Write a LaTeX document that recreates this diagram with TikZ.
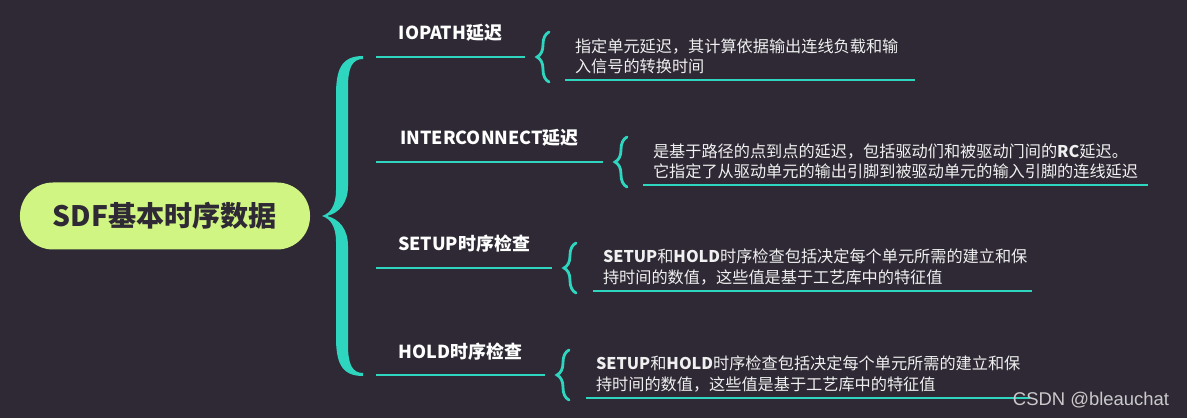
\documentclass[tikz,border=0pt]{standalone}
\usepackage{fontspec}
\setmainfont{Noto Sans CJK SC}
\newfontfamily\markfont{Liberation Sans}
\usetikzlibrary{decorations.pathreplacing}

\definecolor{bgdark}{RGB}{46,41,52}
\definecolor{mint}{RGB}{46,214,192}
\definecolor{lime}{RGB}{209,245,130}

\tikzset{
	topic/.style={fill=lime, text=bgdark, rounded corners=6.6mm, minimum width=58mm, minimum height=13.4mm, font=\fontsize{16}{19}\selectfont\bfseries},
	branch/.style={anchor=south west, text=white, inner xsep=4.4mm, inner ysep=0pt, outer sep=0pt, text depth=3.4mm, font=\fontsize{10.2}{12}\selectfont\bfseries},
	detail/.style={anchor=south west, text=white!94!black, align=left, inner xsep=2mm, inner ysep=1.2mm, outer sep=0pt, font=\fontsize{9.2}{11.7}\selectfont},
	underline/.style={mint, line width=1.7pt},
	smallbrace/.style={mint, line width=1.6pt, line cap=round, decorate, decoration={brace, amplitude=2.4mm}}
}

\begin{document}
\begin{tikzpicture}[x=0.2mm, y=-0.2mm]
	\fill[bgdark] (0,0) rectangle (1187,418);
	\useasboundingbox (0,0) rectangle (1187,418);
	% root
	\node[topic] (sdf) at (165,216) {SDF基本时序数据};
	% big brace
	\fill[mint] (363,56) .. controls (341,56) and (336,70) .. (336,95) -- (336,190) .. controls (336,205) and (331,213) .. (322,216) .. controls (331,219) and (336,227) .. (336,242) -- (336,337) .. controls (336,362) and (341,376) .. (363,376) -- (363,373) .. controls (352,373) and (348,364) .. (348,345) -- (348,246) .. controls (348,229) and (339,219) .. (327,216) .. controls (339,213) and (348,203) .. (348,186) -- (348,87) .. controls (348,68) and (352,59) .. (363,59) -- cycle;
	% branches
	\node[branch, minimum width=29.8mm] (io) at (376,57) {IOPATH延迟};
	\node[branch, minimum width=45.4mm] (ic) at (376,162) {INTERCONNECT延迟};
	\node[branch, minimum width=35.2mm] (setup) at (376,268) {SETUP时序检查};
	\node[branch, minimum width=33.8mm] (hold) at (376,375) {HOLD时序检查};
	\foreach \b in {io,ic,setup,hold}
		\draw[underline] (\b.south west) -- (\b.south east);
	% details
	\node[detail, text width=66mm] (iotxt) at ([shift={(8mm,-4.6mm)}]io.south east) {指定单元延迟，其计算依据输出连线负载和输\\入信号的转换时间};
	\node[detail, text width=97mm] (ictxt) at ([shift={(8mm,-4.6mm)}]ic.south east) {是基于路径的点到点的延迟，包括驱动们和被驱动门间的\textbf{RC}延迟。\\它指定了从驱动单元的输出引脚到被驱动单元的输入引脚的连线延迟};
	\node[detail, text width=83.8mm] (setuptxt) at ([shift={(8.2mm,-4.6mm)}]setup.south east) {\textbf{SETUP}和\textbf{HOLD}时序检查包括决定每个单元所需的建立和保\\持时间的数值，这些值是基于工艺库中的特征值};
	\node[detail, text width=84.8mm] (holdtxt) at ([shift={(8.2mm,-4.6mm)}]hold.south east) {\textbf{SETUP}和\textbf{HOLD}时序检查包括决定每个单元所需的建立和保\\持时间的数值，这些值是基于工艺库中的特征值};
	\foreach \b in {iotxt,ictxt,setuptxt,holdtxt}
		\draw[underline] (\b.south west) -- (\b.south east);
	% small braces
	\foreach \b in {io,ic,setup,hold}
		\draw[smallbrace] ([shift={(4.8mm,-5mm)}]\b.south east) -- ([shift={(4.8mm,5mm)}]\b.south east);
	\node[text=white!75!bgdark, font=\markfont\fontsize{10.5}{12}\selectfont] (mark) at (1091,400) {CSDN @bleauchat};
\end{tikzpicture}
\end{document}
